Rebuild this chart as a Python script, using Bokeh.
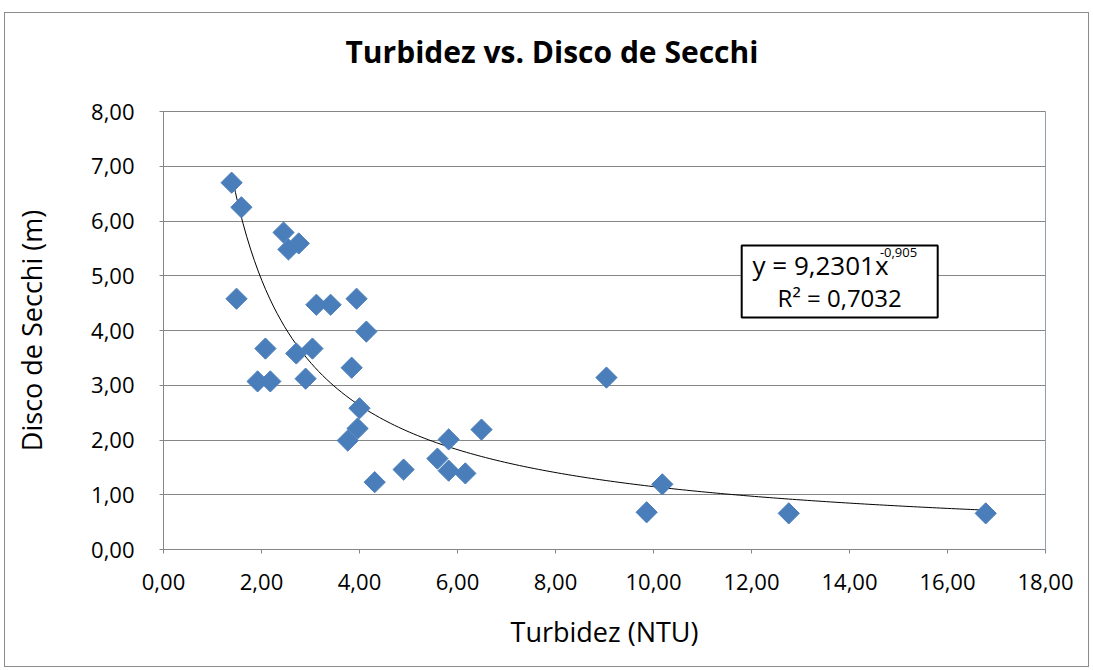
from bokeh.plotting import figure
from bokeh.models import Label, BoxAnnotation, Span, CustomJSTickFormatter, FixedTicker, Range1d, Title
from bokeh.embed import file_html
from bokeh.resources import INLINE
import numpy as np

turbidez = [1.39, 1.59, 2.45, 2.76, 2.55, 1.49, 3.12, 3.41, 3.94, 4.14,
            2.08, 2.71, 3.04, 1.92, 2.18, 2.90, 3.84, 4.00, 3.76, 3.96,
            9.04, 6.49, 5.82, 5.59, 5.82, 6.16, 4.90, 4.31, 9.86, 10.18,
            12.76, 16.78]
secchi = [6.70, 6.25, 5.79, 5.59, 5.48, 4.58, 4.47, 4.47, 4.58, 3.98,
          3.67, 3.58, 3.67, 3.07, 3.07, 3.12, 3.32, 2.58, 1.99, 2.21,
          3.14, 2.19, 2.01, 1.66, 1.44, 1.39, 1.46, 1.23, 0.68, 1.19,
          0.66, 0.66]
coef_a = 9.2301
coef_b = -0.905
x_ticks = [0, 2, 4, 6, 8, 10, 12, 14, 16, 18]
y_ticks = [0, 1, 2, 3, 4, 5, 6, 7, 8]
title_text = "Turbidez vs. Disco de Secchi"

FONT = "Open Sans"
GRAY = "#868686"

p = figure(width=1085, height=655, output_backend="svg", toolbar_location=None,
           title=None,
           x_range=Range1d(0, 18), y_range=Range1d(0, 8),
           min_border_left=158, min_border_right=45, min_border_top=98, min_border_bottom=119)
p.styles = {"border": "1px solid #8c8c8c", "margin-left": "4px", "margin-top": "12px"}
p.outline_line_color = GRAY
p.xgrid.grid_line_color = None
p.ygrid.grid_line_color = GRAY
p.ygrid.grid_line_width = 1

# spacer between frame and title, then the title itself (farther from the frame)
p.add_layout(Title(text=" ", text_font=FONT, text_font_size="20px", standoff=6), "above")
p.add_layout(Title(text=title_text, text_font=FONT, text_font_size="30px",
                   text_font_style="bold", text_color="#000000",
                   align="left", offset=182, standoff=10), "above")

fmt = CustomJSTickFormatter(code="return tick.toFixed(2).replace('.', ',');")
for ax, ticks in ((p.xaxis, x_ticks), (p.yaxis, y_ticks)):
    ax.ticker = FixedTicker(ticks=ticks)
    ax.formatter = fmt
    ax.axis_line_color = GRAY
    ax.major_tick_line_color = GRAY
    ax.major_tick_out = 4
    ax.major_tick_in = 0
    ax.minor_tick_line_color = None
    ax.major_label_text_font = FONT
    ax.major_label_text_font_size = "22px"
    ax.major_label_text_color = "#000000"
    ax.axis_label_text_font = FONT
    ax.axis_label_text_font_size = "27px"
    ax.axis_label_text_font_style = "normal"
    ax.axis_label_text_color = "#000000"
p.xaxis.major_label_standoff = 20
p.yaxis.major_label_standoff = 25
p.xaxis.axis_label = "Turbidez (NTU)"
p.yaxis.axis_label = "Disco de Secchi (m)"
p.xaxis.axis_label_standoff = 20
p.yaxis.axis_label_standoff = 38

p.add_layout(Span(location=18, dimension="height", line_color="#95B3D7", line_width=1))

# trend line
xs = np.linspace(min(turbidez), max(turbidez), 200)
p.line(xs, coef_a * xs ** coef_b, line_color="black", line_width=1)

p.scatter(turbidez, secchi, marker="square", angle=np.pi / 4, size=15,
          fill_color="#4A7EBB", line_color="#4A7EBB")

# equation box
p.add_layout(BoxAnnotation(left=11.80, right=15.80, top=5.553, bottom=4.237,
                           fill_color="white", fill_alpha=1.0,
                           line_color="black", line_alpha=1.0, line_width=2))
p.add_layout(Label(x=12.02, y=5.19, text="y = 9,2301x", text_font=FONT, text_color="#000000",
                   text_font_size="26px", text_baseline="middle", text_align="left"))
p.add_layout(Label(x=14.62, y=5.42, text="-0,905", text_font=FONT, text_color="#000000",
                   text_font_size="13px", text_baseline="middle", text_align="left"))
p.add_layout(Label(x=13.80, y=4.60, text="R² = 0,7032", text_font=FONT, text_color="#000000",
                   text_font_size="24px", text_baseline="middle", text_align="center"))

open("out.html", "w").write(file_html(p, INLINE))
